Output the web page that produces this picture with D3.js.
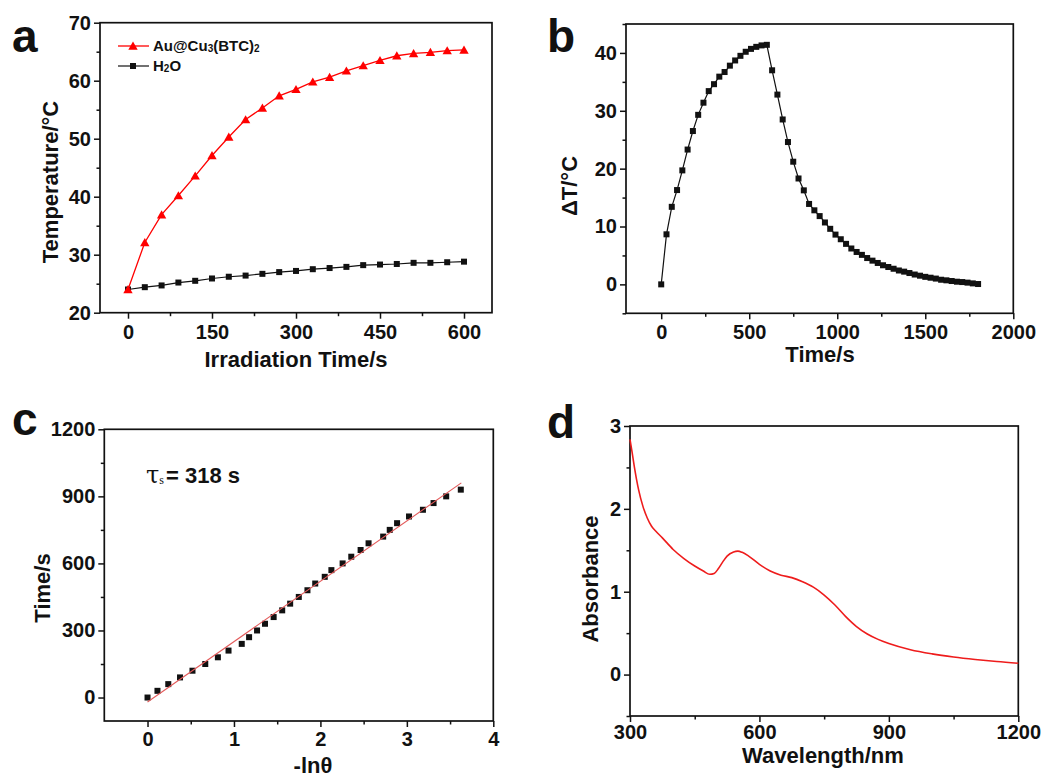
<!DOCTYPE html>
<html><head><meta charset="utf-8">
<script src="https://cdn.jsdelivr.net/npm/d3@7"></script>
<style>body{margin:0;background:#fff}svg{display:block}</style>
</head><body>
<svg id="chart" width="1045" height="777"></svg>
<script>
// ---------- Panel a data ----------
const timeA = [0,30,60,90,120,150,180,210,240,270,300,330,360,390,420,450,480,510,540,570,600];
const auTemp = [24.0,32.1,36.9,40.2,43.6,47.1,50.3,53.3,55.3,57.4,58.5,59.8,60.6,61.7,62.6,63.5,64.3,64.7,64.9,65.2,65.3];
const h2oTemp = [24.0,24.4,24.7,25.2,25.5,25.9,26.2,26.4,26.7,27.0,27.2,27.5,27.7,27.9,28.2,28.3,28.4,28.6,28.6,28.7,28.8];
const seriesNamesA = ["Au@Cu3(BTC)2", "H2O"];
const aXTicks = [0,150,300,450,600], aXMinor = [75,225,375,525];
const aYTicks = [20,30,40,50,60,70], aYMinor = [25,35,45,55,65];

// ---------- Panel b data ----------
const timeB = [0,30,60,90,120,150,180,210,240,270,300,330,360,390,420,450,480,510,540,570,600,630,660,690,720,750,780,810,840,870,900,930,960,990,1020,1050,1080,1110,1140,1170,1200,1230,1260,1290,1320,1350,1380,1410,1440,1470,1500,1530,1560,1590,1620,1650,1680,1710,1740,1770,1800];
const deltaT = [0,8.65,13.4,16.3,19.7,23.3,26.5,29.3,31.4,33.4,34.6,35.9,36.7,37.8,38.7,39.5,40.2,40.7,41.05,41.3,41.4,37.0,32.8,28.5,24.6,21.2,18.3,16.25,13.9,12.8,11.8,10.7,9.6,8.6,7.8,7.0,6.2,5.6,5.1,4.55,4.1,3.7,3.3,3.0,2.7,2.4,2.2,1.96,1.7,1.5,1.3,1.15,1.0,0.8,0.7,0.58,0.46,0.4,0.3,0.17,0.06];
const bXTicks = [0,500,1000,1500,2000], bXMinor = [250,750,1250,1750];
const bYTicks = [0,10,20,30,40], bYMinor = [-5,5,15,25,35,45];

// ---------- Panel c data ----------
const lnTheta = [0,0.115,0.24,0.376,0.52,0.668,0.814,0.937,1.09,1.175,1.267,1.359,1.459,1.558,1.65,1.75,1.85,1.94,2.05,2.127,2.257,2.357,2.465,2.557,2.726,2.802,2.887,3.025,3.186,3.309,3.455,3.624];
const timeC = [0,30,60,90,120,150,180,210,240,270,300,330,360,390,420,450,480,510,540,570,600,630,660,690,720,750,780,810,840,870,900,930];
const fitIntercept = -20, fitSlope = 270, fitRange = [0, 3.63];
const tauText = "= 318 s";
const cXTicks = [0,1,2,3,4], cXMinor = [0.5,1.5,2.5,3.5];
const cYTicks = [0,300,600,900,1200], cYMinor = [150,450,750,1050];

// ---------- Panel d data ----------
const wavelength = [300,305,310,315,320,330,340,350,360,375,400,425,450,470,485,495,505,515,525,540,550,560,575,600,625,650,675,700,725,750,775,800,825,850,875,900,950,1000,1050,1100,1150,1200];
const absorbance = [2.84,2.68,2.51,2.36,2.23,2.03,1.89,1.79,1.73,1.65,1.51,1.40,1.31,1.25,1.21,1.22,1.28,1.36,1.43,1.48,1.49,1.475,1.43,1.33,1.25,1.20,1.17,1.12,1.055,0.96,0.84,0.70,0.58,0.49,0.425,0.375,0.30,0.25,0.212,0.182,0.157,0.137];
const dXTicks = [300,600,900,1200], dXMinor = [450,750,1050];
const dYTicks = [0,1,2,3], dYMinor = [-0.5,0.5,1.5,2.5];

// ---------- drawing ----------
const svg = d3.select("#chart");
const FONT = "'Liberation Sans', Arial, Helvetica, sans-serif";
const INK = "#111";

function panel(o) {
  const g = svg.append("g");
  const x = d3.scaleLinear().domain(o.xDomain).range([o.l, o.r]);
  const y = d3.scaleLinear().domain(o.yDomain).range([o.b, o.t]);
  const styleAxis = sel => {
    sel.select(".domain").remove();
    sel.selectAll(".tick line").attr("stroke", INK).attr("stroke-width", 1.5);
    sel.selectAll(".tick text").attr("fill", INK).attr("font-family", FONT)
      .attr("font-weight", "bold").attr("font-size", 20);
  };
  g.append("g").attr("transform", `translate(0,${o.b})`)
    .call(d3.axisBottom(x).tickValues(o.xMinor).tickSize(3.5).tickFormat("")).call(styleAxis);
  g.append("g").attr("transform", `translate(0,${o.b})`)
    .call(d3.axisBottom(x).tickValues(o.xTicks).tickSize(6).tickPadding(o.xPad).tickFormat(d3.format("d"))).call(styleAxis);
  g.append("g").attr("transform", `translate(${o.l},0)`)
    .call(d3.axisLeft(y).tickValues(o.yMinor).tickSize(3.5).tickFormat("")).call(styleAxis);
  g.append("g").attr("transform", `translate(${o.l},0)`)
    .call(d3.axisLeft(y).tickValues(o.yTicks).tickSize(6).tickPadding(o.yPad).tickFormat(d3.format("d"))).call(styleAxis);
  g.append("rect").attr("x", o.l).attr("y", o.t).attr("width", o.r - o.l).attr("height", o.b - o.t)
    .attr("fill", "none").attr("stroke", INK).attr("stroke-width", 1.7);
  // titles
  g.append("text").attr("x", o.xt[0]).attr("y", o.xt[1]).attr("text-anchor", "middle")
    .attr("font-family", FONT).attr("font-weight", "bold").attr("font-size", 22).attr("fill", INK).text(o.xTitle);
  g.append("text").attr("transform", `translate(${o.yt[0]},${o.yt[1]}) rotate(-90)`).attr("text-anchor", "middle")
    .attr("font-family", FONT).attr("font-weight", "bold").attr("font-size", 22).attr("fill", INK).text(o.yTitle);
  g.append("text").attr("x", o.lab[0]).attr("y", o.lab[1])
    .attr("font-family", FONT).attr("font-weight", "bold").attr("font-size", 46).attr("fill", INK).text(o.letter);
  return {g, x, y};
}

const tri = d3.symbol().type(d3.symbolTriangle).size(38);

// Panel a
{
  const p = panel({l:100, r:492, t:22.7, b:312.7, xDomain:[-50,650], yDomain:[20,70],
    xTicks:aXTicks, xMinor:aXMinor, yTicks:aYTicks, yMinor:aYMinor, xPad:6, yPad:3,
    xTitle:"Irradiation Time/s", yTitle:"Temperature/°C", xt:[296,367], yt:[58,182], lab:[12,52], letter:"a"});
  const {g, x, y} = p;
  const line = d3.line().x(d => x(d[0])).y(d => y(d[1]));
  const h = timeA.map((t,i) => [t, h2oTemp[i]]);
  const a = timeA.map((t,i) => [t, auTemp[i]]);
  g.append("path").attr("d", line(h)).attr("fill","none").attr("stroke", "#111").attr("stroke-width", 1.2);
  g.selectAll(".sq").data(h).join("rect").attr("x", d => x(d[0]) - 3).attr("y", d => y(d[1]) - 3)
    .attr("width", 6).attr("height", 6).attr("fill", "#111");
  g.append("path").attr("d", line(a)).attr("fill","none").attr("stroke", "#ff0000").attr("stroke-width", 1.3);
  g.selectAll(".tr").data(a).join("path").attr("d", tri)
    .attr("transform", d => `translate(${x(d[0])},${y(d[1]) + 1})`).attr("fill", "#ff0000");
  // legend
  const lg = g.append("g");
  lg.append("line").attr("x1",118).attr("x2",149).attr("y1",46).attr("y2",46).attr("stroke","#ff0000").attr("stroke-width",1.3);
  lg.append("path").attr("d", tri).attr("transform","translate(133,47)").attr("fill","#ff0000");
  lg.append("line").attr("x1",118).attr("x2",149).attr("y1",66).attr("y2",66).attr("stroke","#111").attr("stroke-width",1.2);
  lg.append("rect").attr("x",130).attr("y",63).attr("width",6).attr("height",6).attr("fill","#111");
  const t1 = lg.append("text").attr("x",153).attr("y",51).attr("font-family",FONT).attr("font-weight","bold").attr("font-size",15).attr("fill",INK);
  t1.append("tspan").text(seriesNamesA[0].slice(0,5));
  t1.append("tspan").attr("font-size",10).attr("dy",1).text(seriesNamesA[0].slice(5,6));
  t1.append("tspan").attr("dy",-1).text(seriesNamesA[0].slice(6,11));
  t1.append("tspan").attr("font-size",10).attr("dy",1).text(seriesNamesA[0].slice(11));
  const t2 = lg.append("text").attr("x",153).attr("y",71).attr("font-family",FONT).attr("font-weight","bold").attr("font-size",15).attr("fill",INK);
  t2.append("tspan").text(seriesNamesA[1].slice(0,1));
  t2.append("tspan").attr("font-size",10).attr("dy",1).text(seriesNamesA[1].slice(1,2));
  t2.append("tspan").attr("dy",-1).text(seriesNamesA[1].slice(2));
}

// Panel b
{
  const {g, x, y} = panel({l:626, r:1013.3, t:24, b:313.3, xDomain:[-200,2000], yDomain:[-5,45],
    xTicks:bXTicks, xMinor:bXMinor, yTicks:bYTicks, yMinor:bYMinor, xPad:5.5, yPad:3,
    xTitle:"Time/s", yTitle:"ΔT/°C", xt:[820,362], yt:[577,186], lab:[547,52], letter:"b"});
  const pts = timeB.map((t,i) => [t, deltaT[i]]);
  g.append("path").attr("d", d3.line().x(d => x(d[0])).y(d => y(d[1]))(pts))
    .attr("fill","none").attr("stroke","#111").attr("stroke-width",1.2);
  g.selectAll(".sq").data(pts).join("rect").attr("x", d => x(d[0]) - 3).attr("y", d => y(d[1]) - 3)
    .attr("width", 6).attr("height", 6).attr("fill", "#111");
}

// Panel c
{
  const {g, x, y} = panel({l:104.3, r:493.3, t:429.3, b:721, xDomain:[-0.5,4], yDomain:[-105,1200],
    xTicks:cXTicks, xMinor:cXMinor, yTicks:cYTicks, yMinor:cYMinor, xPad:5, yPad:3,
    xTitle:"-lnθ", yTitle:"Time/s", xt:[313,773], yt:[50,588], lab:[12,435], letter:"c"});
  const pts = lnTheta.map((v,i) => [v, timeC[i]]);
  g.selectAll(".sq").data(pts).join("rect").attr("x", d => x(d[0]) - 3).attr("y", d => y(d[1]) - 3)
    .attr("width", 6).attr("height", 6).attr("fill", "#111");
  const fitPts = fitRange.map(v => [v, fitIntercept + fitSlope * v]);
  g.append("path").attr("d", d3.line().x(d => x(d[0])).y(d => y(d[1]))(fitPts))
    .attr("fill","none").attr("stroke","#e35a5a").attr("stroke-width",1.1);
  const t = g.append("text").attr("x",146).attr("y",483).attr("fill",INK);
  t.append("tspan").attr("font-family","'DejaVu Serif','Liberation Serif',serif").attr("font-size",24).text("τ");
  t.append("tspan").attr("font-family","'Liberation Serif','DejaVu Serif',serif").attr("font-size",12).attr("dy",1).text("s");
  t.append("tspan").attr("font-family",FONT).attr("font-weight","bold").attr("font-size",22).attr("dy",-1).attr("dx",2).text(tauText);
}

// Panel d
{
  const {g, x, y} = panel({l:630, r:1018.3, t:426, b:716, xDomain:[300,1200], yDomain:[-0.5,3],
    xTicks:dXTicks, xMinor:dXMinor, yTicks:dYTicks, yMinor:dYMinor, xPad:3, yPad:3,
    xTitle:"Wavelength/nm", yTitle:"Absorbance", xt:[823,763], yt:[598,579], lab:[547,438], letter:"d"});
  const pts = wavelength.map((w,i) => [w, absorbance[i]]);
  g.append("path").attr("d", d3.line().curve(d3.curveMonotoneX).x(d => x(d[0])).y(d => y(d[1]))(pts))
    .attr("fill","none").attr("stroke","#ee1c1c").attr("stroke-width",1.6);
}
</script>
</body></html>
